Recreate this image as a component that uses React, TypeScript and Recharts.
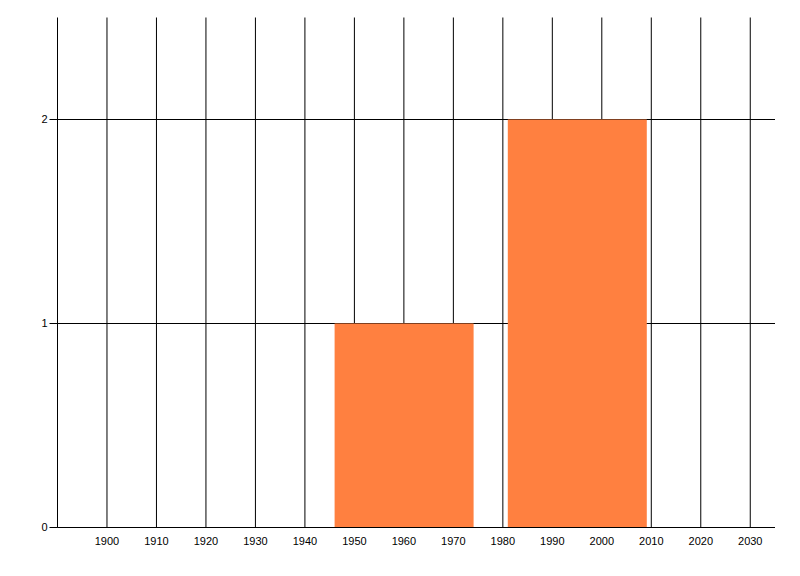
import React from "react";
import { ComposedChart, Bar, XAxis, YAxis, CartesianGrid } from "recharts";

const binCenters = [1960, 1995];
const binCounts = [1, 2];
const xTicks = [1900, 1910, 1920, 1930, 1940, 1950, 1960, 1970, 1980, 1990, 2000, 2010, 2020, 2030];
const yTicks = [0, 1, 2];
const xDomain = [1890, 2035];
const yDomain = [0, 2.5];

const data = binCenters.map((x, i) => ({ x, count: binCounts[i] }));

const tickStyle = { fontFamily: "'Liberation Sans', Arial, sans-serif", fontSize: 11, fill: "#000" };

export default function App() {
  return (
    <div style={{ position: "absolute", left: 0, top: 0, width: 800, height: 576, background: "#fff" }}>
      <ComposedChart
        width={800}
        height={576}
        data={data}
        margin={{ top: 17.5, right: 25, bottom: 0, left: 0.5 }}
      >
        <CartesianGrid stroke="#000" strokeWidth={1} syncWithTicks />
        <XAxis
          dataKey="x"
          type="number"
          domain={xDomain}
          ticks={xTicks}
          allowDataOverflow
          height={48.5}
          tickSize={8}
          tickLine={false}
          axisLine={{ stroke: "#000" }}
          tick={tickStyle}
          interval={0}
        />
        <YAxis
          type="number"
          domain={yDomain}
          ticks={yTicks}
          allowDataOverflow
          width={57}
          tickSize={8}
          tickLine={{ stroke: "#000" }}
          axisLine={{ stroke: "#000" }}
          tick={tickStyle}
          interval={0}
        />
        <Bar dataKey="count" fill="#FF8040" isAnimationActive={false} />
      </ComposedChart>
    </div>
  );
}
